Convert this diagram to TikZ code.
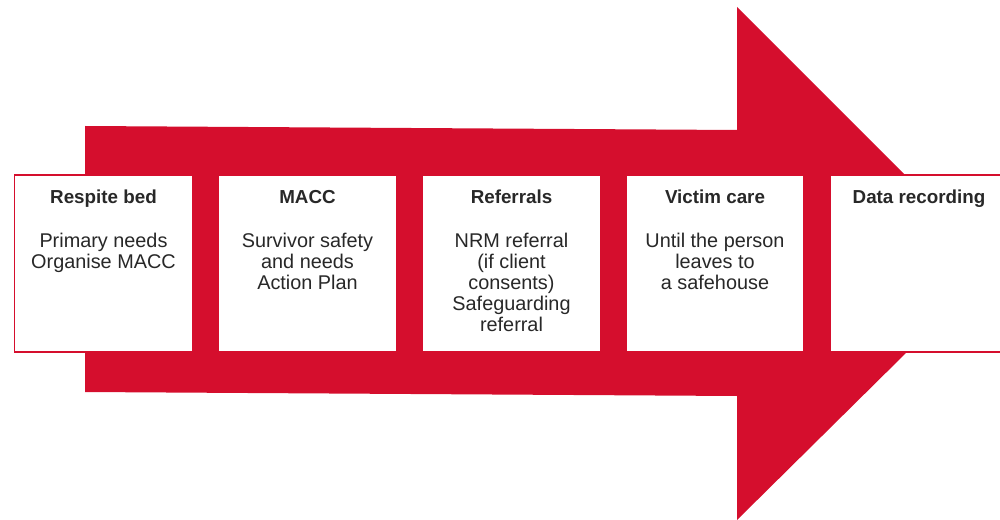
\documentclass[tikz,border=0pt]{standalone}
\usepackage{fontspec}
\setmainfont{Liberation Sans}
\usetikzlibrary{positioning}
\definecolor{arrowred}{RGB}{213,14,45}
\definecolor{textgrey}{RGB}{40,40,40}

\begin{document}
\begin{tikzpicture}[x=0.02cm,y=-0.02cm]

        \useasboundingbox (0,0) rectangle (1000,520);
        \clip (0,0) rectangle (1000,520);

        % the big arrow behind the stages
        \fill[arrowred] (85,126) -- (737,130) -- (737,7) -- (995,265)
          -- (737,520) -- (737,396) -- (85,392) -- cycle;

        \begin{scope}[every node/.style={draw=arrowred,line width=0.8pt,fill=white,
            minimum width=3.56cm,minimum height=3.54cm,inner sep=0pt}]
          \node (respite)   at (103.5,263.5) {};
          \node (macc)      at (307.5,263.5) {};
          \node (referrals) at (511.5,263.5) {};
          \node (care)      at (715,263.5)   {};
          \node (recording) at (919,263.5)   {};
        \end{scope}

        \begin{scope}[every node/.style={text=textgrey,font=\fontsize{10.7}{12}\selectfont\bfseries,
            text height=0.75em,text depth=0.22em,inner sep=0pt}]
          \node (respite-title)   [below=9pt of respite.north]   {Respite bed};
          \node (macc-title)      [below=9pt of macc.north]      {MACC};
          \node (referrals-title) [below=9pt of referrals.north] {Referrals};
          \node (care-title)      [below=9pt of care.north]      {Victim care};
          \node (recording-title) [below=9pt of recording.north] {Data recording};
        \end{scope}

        \begin{scope}[every node/.style={text=textgrey,font=\fontsize{11.3}{12}\selectfont,
            align=center,inner sep=0pt}]
          \node (respite-text)   [below=14pt of respite-title]   {Primary needs\\Organise MACC};
          \node (macc-text)      [below=14pt of macc-title]      {Survivor safety\\and needs\\Action Plan};
          \node (referrals-text) [below=14pt of referrals-title] {NRM referral\\(if client\\consents)\\Safeguarding\\referral};
          \node (care-text)      [below=14pt of care-title]      {Until the person\\leaves to\\a safehouse};
        \end{scope}

      \end{tikzpicture}
\end{document}
